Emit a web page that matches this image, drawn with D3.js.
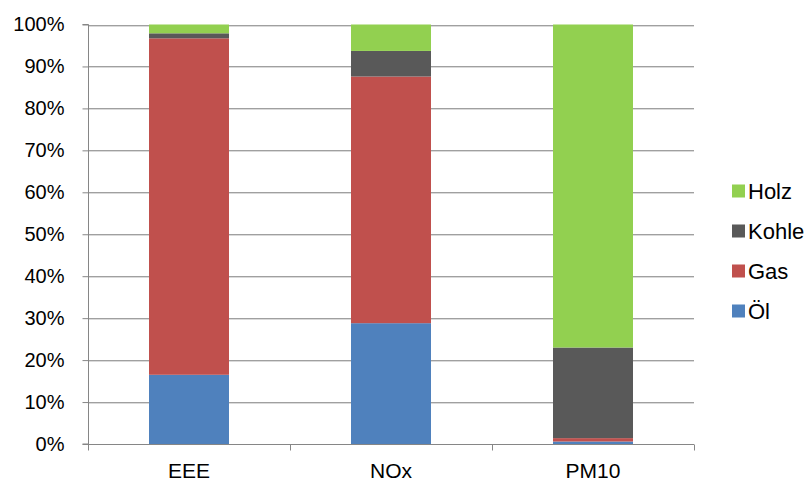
<!DOCTYPE html>
<html>
<head>
<meta charset="utf-8">
<script src="https://cdn.jsdelivr.net/npm/d3@7"></script>
<style>
  html, body { margin: 0; padding: 0; background: #fff; }
  svg { display: block; font-family: "Liberation Sans", Arial, sans-serif; }
</style>
</head>
<body>
<svg id="chart" width="809" height="483"></svg>
<script>
// Emission shares by fuel type (percent of each pollutant total)
const categories = ["EEE", "NOx", "PM10"];
const seriesNames = ["Öl", "Gas", "Kohle", "Holz"];
const seriesColors = ["#4F81BD", "#C0504D", "#595959", "#92D050"];
const oel   = [16.5, 28.8, 0.6];
const gas   = [80.2, 58.8, 0.8];
const kohle = [1.2, 6.1, 21.6];
const holz  = [2.1, 6.3, 77.0];
const yTicks = [0, 10, 20, 30, 40, 50, 60, 70, 80, 90, 100];

const rows = categories.map((c, i) => ({
  cat: c, "Öl": oel[i], "Gas": gas[i], "Kohle": kohle[i], "Holz": holz[i]
}));
const stacked = d3.stack().keys(seriesNames)(rows);

const svg = d3.select("#chart");
const plotLeft = 88, plotRight = 694, plotTop = 24.5, plotBottom = 444;

const x = d3.scaleBand().domain(categories).range([plotLeft, plotRight]).paddingInner(0.604).paddingOuter(0.302);
const y = d3.scaleLinear().domain([0, 100]).range([plotBottom, plotTop]);
const color = d3.scaleOrdinal().domain(seriesNames).range(seriesColors);

// Horizontal gridlines (dark line with a soft lighter line beneath)
const grid = svg.append("g");
yTicks.filter(t => t > 0).forEach(t => {
  grid.append("line").attr("x1", plotLeft).attr("x2", plotRight)
    .attr("y1", Math.round(y(t)) + 0.5).attr("y2", Math.round(y(t)) + 0.5)
    .attr("stroke", "#a0a0a0").attr("stroke-width", 1);
  grid.append("line").attr("x1", plotLeft).attr("x2", plotRight)
    .attr("y1", Math.round(y(t)) + 1.5).attr("y2", Math.round(y(t)) + 1.5)
    .attr("stroke", "#dadada").attr("stroke-width", 1);
});

// Stacked bars
svg.append("g").selectAll("g").data(stacked).join("g")
  .attr("fill", d => color(d.key))
  .selectAll("rect").data(d => d).join("rect")
  .attr("x", d => x(d.data.cat))
  .attr("width", x.bandwidth())
  .attr("y", d => y(d[1]))
  .attr("height", d => y(d[0]) - y(d[1]));

// Y axis
const yAxis = d3.axisLeft(y).tickValues(yTicks).tickFormat(d => d + "%").tickSize(6).tickPadding(18);
const gy = svg.append("g").attr("transform", `translate(${plotLeft + 0.5},0)`).call(yAxis);
gy.select(".domain").attr("stroke", "#868686").attr("d", `M-6,${y(100)}H0V${plotBottom}H-6`);
gy.selectAll(".tick line").attr("stroke", "#868686");
gy.selectAll(".tick text").attr("font-size", 20).attr("fill", "#000")
  .attr("font-family", "Liberation Sans, Arial, sans-serif");

// X axis with ticks at category boundaries
const gx = svg.append("g").attr("transform", `translate(0,${plotBottom + 0.5})`);
gx.append("line").attr("x1", plotLeft).attr("x2", plotRight).attr("stroke", "#868686");
const step = (plotRight - plotLeft) / categories.length;
d3.range(categories.length + 1).forEach(i => {
  const xx = Math.round(plotLeft + i * step) + 0.5;
  gx.append("line").attr("x1", xx).attr("x2", xx).attr("y1", 0).attr("y2", 6).attr("stroke", "#868686");
});
gx.selectAll("text.cat").data(categories).join("text").attr("class", "cat")
  .attr("x", d => x(d) + x.bandwidth() / 2).attr("y", 33)
  .attr("text-anchor", "middle").attr("font-size", 21).attr("fill", "#000")
  .text(d => d);

// Legend (top to bottom: Holz, Kohle, Gas, Öl)
const legend = svg.append("g");
seriesNames.slice().reverse().forEach((name, i) => {
  const cy = 191 + i * 40;
  legend.append("rect").attr("x", 732).attr("y", cy - 6.5).attr("width", 13).attr("height", 13).attr("fill", color(name));
  legend.append("text").attr("x", 748).attr("y", cy).attr("dy", "0.36em")
    .attr("font-size", 22).attr("fill", "#000").text(name);
});
</script>
</body>
</html>
